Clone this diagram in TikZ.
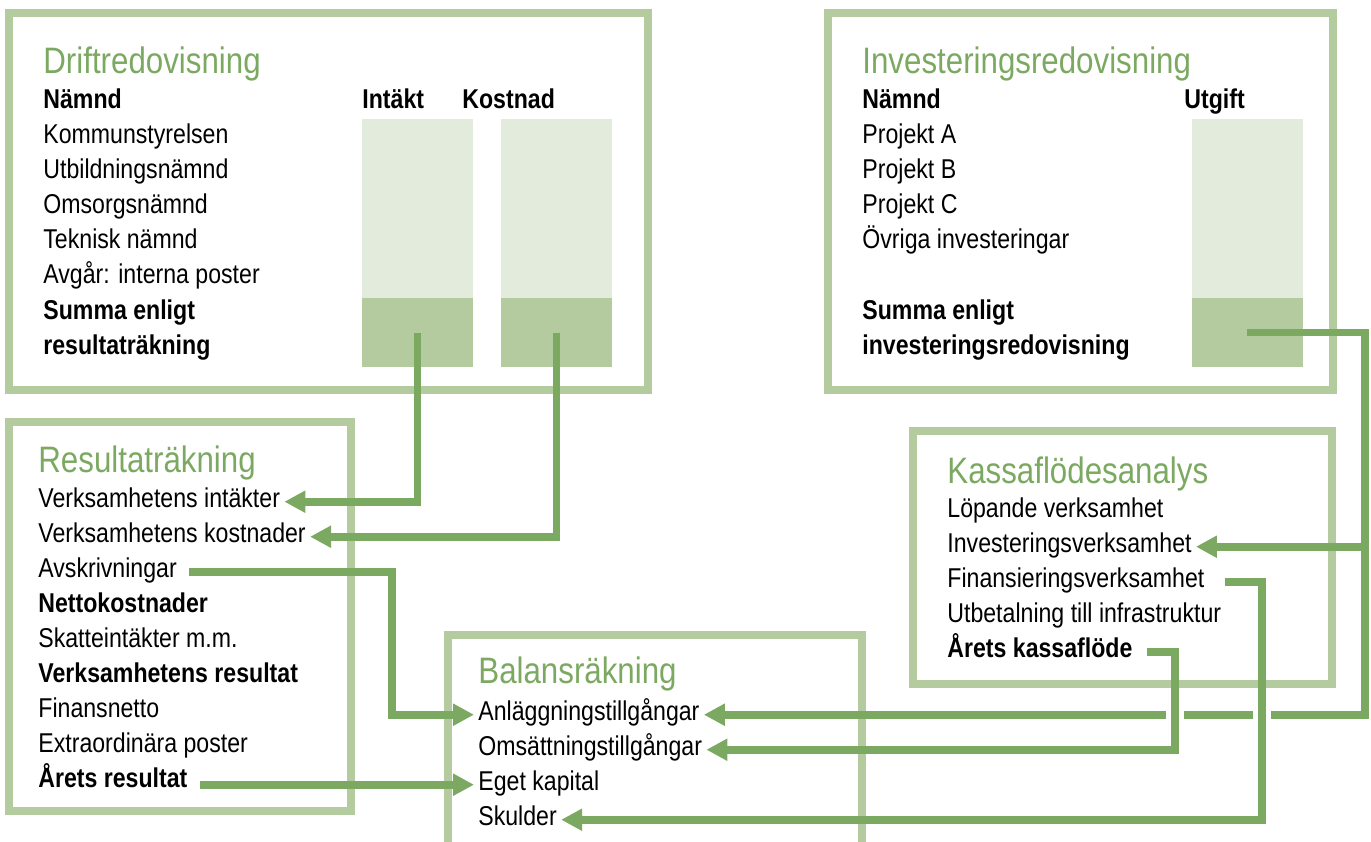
\documentclass[tikz,border=0pt]{standalone}
\usepackage{fontspec}
\setmainfont{Liberation Sans}[FakeStretch=0.85]
\usetikzlibrary{arrows.meta, calc}
\definecolor{framegreen}{HTML}{B3CB9F}
\definecolor{barlight}{HTML}{E3EBDC}
\definecolor{flowgreen}{HTML}{7CA961}
\tikzset{
	frame/.style={draw=framegreen, line width=4pt},
	item/.style={anchor=base west, inner sep=2pt, font=\fontsize{13.6}{15}\selectfont},
	heading/.style={item, text=flowgreen, font=\fontsize{18.4}{21}\selectfont},
	bartop/.style={fill=barlight, inner sep=0pt, minimum width=55.5pt, minimum height=89.5pt},
	barsum/.style={fill=framegreen, inner sep=0pt, minimum width=55.5pt, minimum height=34.5pt},
	flow/.style={draw=flowgreen, line width=3.8pt, -{Triangle[length=10.5pt,width=10.5pt]}}
}

\begin{document}
\begin{tikzpicture}[x=0.5pt, y=-0.5pt]
	\useasboundingbox (0,0) rectangle (1371,841);

	% frames
	\draw[frame] (9,13) rectangle (648,390);
	\draw[frame] (828,13) rectangle (1333,390);
	\draw[frame] (9,422) rectangle (351,811);
	\draw[frame] (913,431) rectangle (1332,684);
	\draw[frame] (448,635) rectangle (862,900);

	% Driftredovisning
	\node[heading] (drift) at (39,73) {Driftredovisning};
	\node[item] (drift-head) at (39,108) {\bfseries Nämnd};
	\node[item] (int-head) at (358,108) {\bfseries Intäkt};
	\node[item] (kost-head) at (458,108) {\bfseries Kostnad};
	\foreach \txt [count=\i] in {Kommunstyrelsen, Utbildningsnämnd, Omsorgsnämnd, Teknisk nämnd, Avgår: interna poster, {\bfseries Summa enligt}, {\bfseries resultaträkning}}
		\node[item] (drift-\i) at (39, {143+35.2*(\i-1)}) {\txt};
	\node[bartop] (inttop) at (417.5,208.5) {};
	\node[barsum] (intsum) at (417.5,332.5) {};
	\node[bartop] (kosttop) at (556.5,208.5) {};
	\node[barsum] (kostsum) at (556.5,332.5) {};

	% Investeringsredovisning
	\node[heading] (inv) at (858,73) {Investeringsredovisning};
	\node[item] (inv-head) at (858,108) {\bfseries Nämnd};
	\node[item] (utg-head) at (1180,108) {\bfseries Utgift};
	\foreach \txt [count=\i] in {Projekt A, Projekt B, Projekt C, Övriga investeringar}
		\node[item] (inv-\i) at (858, {143+35.2*(\i-1)}) {\txt};
	\node[item] (inv-5) at (858,319) {\bfseries Summa enligt};
	\node[item] (inv-6) at (858,354) {\bfseries investeringsredovisning};
	\node[bartop] (utgtop) at (1247,208.5) {};
	\node[barsum] (utgsum) at (1247,332.5) {};

	% Resultaträkning
	\node[heading] (res) at (34,472) {Resultaträkning};
	\foreach \txt [count=\i] in {Verksamhetens intäkter, Verksamhetens kostnader, Avskrivningar, {\bfseries Nettokostnader}, Skatteintäkter m.m., {\bfseries Verksamhetens resultat}, Finansnetto, Extraordinära poster, {\bfseries Årets resultat}}
		\node[item] (res-\i) at (34, {507+35*(\i-1)}) {\txt};

	% Kassaflödesanalys
	\node[heading] (kas) at (943,483) {Kassaflödesanalys};
	\foreach \txt [count=\i] in {Löpande verksamhet, Investeringsverksamhet, Finansieringsverksamhet, Utbetalning till infrastruktur, {\bfseries Årets kassaflöde}}
		\node[item] (kas-\i) at (943, {517+35*(\i-1)}) {\txt};

	% Balansräkning
	\node[heading] (bal) at (474,683) {Balansräkning};
	\foreach \txt [count=\i] in {Anläggningstillgångar, Omsättningstillgångar, Eget kapital, Skulder}
		\node[item] (bal-\i) at (474, {720+35*(\i-1)}) {\txt};

	% bends of the connectors
	\coordinate (avbend) at (392,0);
	\coordinate (utgbend) at (1365,0);
	\coordinate (kfbend) at (1175,0);
	\coordinate (finbend) at (1262,0);

	% drift -> resultat
	\draw[flow] (intsum.center) |- (res-1.mid east);
	\draw[flow] (kostsum.center) |- (res-2.mid east);

	% resultat -> balans
	\draw[flow] ([xshift=4pt]res-3.mid east) -| (avbend |- bal-1.mid west) -- (bal-1.mid west);
	\draw[flow] ($(res-9.mid east |- bal-3.mid west)+(8,0)$) -- (bal-3.mid west);

	% investering -> kassaflöde, balans
	\draw[flow] (utgsum.center) -| (utgbend |- bal-1.mid east) -- (bal-1.mid east);
	\draw[flow] (utgbend |- kas-2.mid east) -- (kas-2.mid east);

	% gaps where the lines cross
	\foreach \c in {kfbend, finbend}
		\fill[white] ($(\c |- bal-1.mid east)+(-9,-6)$) rectangle ($(\c |- bal-1.mid east)+(9,6)$);

	% kassaflöde -> balans
	\draw[flow] ([xshift=8pt]kas-3.mid east) -| (finbend |- bal-4.mid east) -- (bal-4.mid east);
	\draw[flow] ([xshift=5pt]kas-5.mid east) -| (kfbend |- bal-2.mid east) -- (bal-2.mid east);
\end{tikzpicture}
\end{document}
